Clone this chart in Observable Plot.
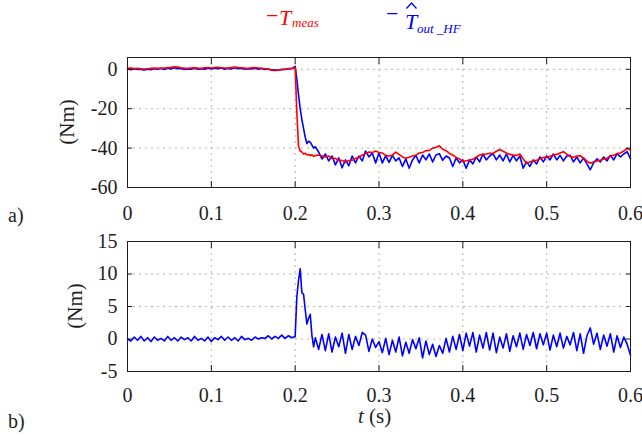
<!DOCTYPE html>
<html><head><meta charset="utf-8">
<script src="https://cdn.jsdelivr.net/npm/d3@7"></script>
<script src="https://cdn.jsdelivr.net/npm/@observablehq/plot@0.6"></script>
<style>
html,body{margin:0;padding:0;background:#fff;}
#wrap{position:relative;width:642px;height:437px;overflow:hidden;font-family:"Liberation Serif","Times New Roman",serif;}
#wrap > svg{position:absolute;left:0;}
#wrap svg text{font-family:"Liberation Serif","Times New Roman",serif;}
</style></head><body><div id="wrap"></div>
<script>
// ---- time samples (s) ----
const timePre = [0,0.004,0.008,0.012,0.016,0.02,0.024,0.028,0.032,0.036,
  0.04,0.044,0.048,0.052,0.056,0.06,0.064,0.068,0.072,0.076,
  0.08,0.084,0.088,0.092,0.096,0.1,0.104,0.108,0.112,0.116,
  0.12,0.124,0.128,0.132,0.136,0.14,0.144,0.148,0.152,0.156,
  0.16,0.164,0.168,0.172,0.176,0.18,0.184,0.188,0.192,0.196];
const timeStep = [0.2,0.202,0.204,0.206,0.208,0.21,0.212,0.214,0.216,0.218,0.22,0.222,0.224];
const timePost = [0.228,0.232,0.236,
  0.24,0.244,0.248,0.252,0.256,0.26,0.264,0.268,0.272,0.276,
  0.28,0.284,0.288,0.292,0.296,0.3,0.304,0.308,0.312,0.316,
  0.32,0.324,0.328,0.332,0.336,0.34,0.344,0.348,0.352,0.356,
  0.36,0.364,0.368,0.372,0.376,0.38,0.384,0.388,0.392,0.396,
  0.4,0.404,0.408,0.412,0.416,0.42,0.424,0.428,0.432,0.436,
  0.44,0.444,0.448,0.452,0.456,0.46,0.464,0.468,0.472,0.476,
  0.48,0.484,0.488,0.492,0.496,0.5,0.504,0.508,0.512,0.516,
  0.52,0.524,0.528,0.532,0.536,0.54,0.544,0.548,0.552,0.556,
  0.56,0.564,0.568,0.572,0.576,0.58,0.584,0.588,0.592,0.596,
  0.6];

// ---- panel a: measured torque T_meas (Nm) ----
const measPre = [0.5,0.6,0.4,0.5,0.3,0.2,0.3,0.5,0.6,0.5,
  0.7,0.6,0.8,1.0,1.3,1.1,0.8,0.6,0.5,0.7,
  0.8,0.6,0.5,0.8,0.9,0.7,0.9,1.0,0.8,0.7,
  0.6,0.9,1.1,0.9,0.8,0.6,0.5,0.8,0.9,0.7,
  0.5,0.3,0.0,-0.4,-0.6,-0.5,-0.2,0.1,0.3,0.5];
const measStep = [0.8,-22,-39,-41.5,-42,-43,-42.6,-43.4,-43.2,-43.8,-43.4,-44.2,-43.8];
const measPost = [-43.5,-44,-44.5,
  -44,-45.3,-45.2,-46.3,-46.2,-47.2,-46.3,-46.2,-45.2,-44.8,
  -43.5,-42.8,-42,-42.3,-41.5,-42.2,-42.5,-43.7,-44,-43.6,
  -42,-43.2,-44.5,-45.2,-44.6,-44,-43.6,-42.5,-42.2,-41.3,
  -41.2,-40,-39.7,-38.8,-40.6,-41.3,-42.7,-43.5,-44.7,-45.5,
  -46.8,-46.4,-46.1,-45.7,-44.6,-43.5,-43.2,-43,-42.6,-42.7,
  -41.6,-40.7,-41.6,-42.5,-43.2,-43.5,-43.7,-43,-45.5,-47.7,
  -47.1,-46.5,-46.2,-45.5,-44.8,-44.5,-44.2,-43.5,-43.2,-42.5,
  -41.8,-43.1,-44.3,-44.6,-44,-43.9,-45,-46.6,-47.7,-47.1,
  -46.5,-46.2,-45.5,-45.2,-44,-43.6,-42.8,-42.5,-41.5,-40.2,
  -41];

// ---- panel a: estimated torque T^_out_HF (Nm) ----
const estPre = [0.2,-0.2,0.3,-0.1,0.0,-0.4,0.1,-0.2,0.3,0.0,
  0.4,-0.1,0.5,0.2,0.8,0.3,0.4,-0.1,0.2,0.1,
  0.5,0.0,0.3,0.1,0.6,0.2,0.5,0.3,0.7,0.1,
  0.4,0.2,0.8,0.3,0.5,0.0,0.3,0.2,0.6,0.1,
  0.4,-0.1,0.2,-0.3,-0.2,-0.5,0.0,-0.1,0.4,0.3];
const estStep = [1.5,-5,-13,-20,-25.5,-30,-34.5,-37.7,-36.5,-37,-38.5,-40,-39.3];
const estPost = [-42,-45.5,-43,
  -46.5,-44,-48.5,-45,-50,-46,-49,-44,-47.5,-44,
  -46.5,-41.5,-44.5,-42.5,-47.5,-42.5,-47.5,-43.8,-47.2,-43.7,
  -46.5,-45,-49.3,-45.5,-50.2,-46,-43.7,-47.5,-43.5,-46,
  -43,-47,-43.5,-42.8,-46.2,-44,-45,-49.3,-45,-47.5,
  -46,-50.2,-46,-48,-44.5,-47,-43,-46,-44,-42.8,
  -46,-43.5,-46.5,-43,-47,-43.7,-46.5,-44,-50.2,-47,
  -49.3,-46,-48,-44.5,-47,-44,-46,-43,-46,-43.7,
  -46.5,-44,-43.7,-47,-44.5,-47.5,-45,-48,-51,-47.5,
  -45.5,-47,-44.5,-46.5,-43.7,-46,-42.8,-44.5,-43,-41.8,
  -45.5];

// ---- panel b: high-frequency estimate (Nm) ----
const hfPre = [0.0,-0.3,0.3,-0.2,0.4,-0.3,0.2,-0.4,0.3,-0.2,
  0.1,-0.3,0.4,-0.2,0.2,-0.3,0.3,-0.1,0.2,-0.3,
  0.4,-0.2,0.1,-0.3,0.3,-0.4,0.2,-0.1,0.4,-0.2,
  0.3,-0.2,0.2,-0.3,0.4,-0.1,0.1,-0.2,0.3,0.0,
  0.2,0.1,0.5,0.0,0.4,0.1,0.6,0.1,0.5,0.2];
const hfStep = [0.4,6.5,9.0,10.8,7.1,6.9,4.5,2.3,3.2,3.8,0.5,-1.2,0.2];
const hfPost = [-1.6,0.7,-1.8,
  0.8,-2.0,0.3,-1.2,0.9,-2.2,0.7,-1.6,0.4,-1.0,
  1.0,0.6,-1.9,0.0,-1.3,-0.4,-2.1,0.1,-2.4,-0.2,
  -2.0,0.3,-2.6,-0.5,-2.2,-0.1,-1.5,0.2,-2.9,-0.3,
  -2.4,-0.8,-2.7,-1.0,-2.2,0.1,-2.0,0.4,-1.6,0.7,
  -1.8,0.9,-1.1,1.0,-2.0,0.6,-1.4,1.0,-1.7,0.9,
  -2.1,0.3,-1.4,0.8,-1.9,0.5,-1.2,0.9,-1.6,0.7,
  -1.0,1.0,-1.5,0.8,-0.9,0.9,-1.7,0.6,-1.2,0.9,
  -1.4,0.4,-0.9,1.0,-1.8,0.8,-2.2,0.5,1.7,-0.8,
  0.9,-1.6,0.6,-1.1,0.8,-2.0,0.5,-1.3,0.3,-0.8,
  -2.5];

const xTicks = [0, 0.1, 0.2, 0.3, 0.4, 0.5, 0.6];
const xTickLabels = ["0", "0.1", "0.2", "0.3", "0.4", "0.5", "0.6"];
const yTicksA = [-60, -40, -20, 0];
const yTicksB = [-5, 0, 5, 10, 15];

const time = [...timePre, ...timeStep, ...timePost];
const meas = [...measPre, ...measStep, ...measPost];
const est = [...estPre, ...estStep, ...estPost];
const hf = [...hfPre, ...hfStep, ...hfPost];

const rowsA = time.map((t, i) => ({t, meas: meas[i], est: est[i]}));
const rowsB = time.map((t, i) => ({t, hf: hf[i]}));

const wrap = document.getElementById("wrap");
const ink = "#1e1e1e";
const serif = "Liberation Serif";
const gridStyle = {stroke: "#b4b4b4", strokeOpacity: 1, strokeWidth: 1, strokeDasharray: "2,4"};

function panel({height, mt, mb, yDomain, yTicks, lines, labelPad}) {
  return Plot.plot({
    width: 642, height,
    marginLeft: 127, marginRight: 12, marginTop: mt, marginBottom: mb,
    x: {domain: [0, 0.6]},
    y: {domain: yDomain},
    style: {fontFamily: serif, fontSize: "20px", color: ink, background: "transparent", overflow: "visible"},
    marks: [
      Plot.gridX(xTicks, gridStyle),
      Plot.gridY(yTicks, gridStyle),
      ...lines,
      Plot.frame({stroke: ink, strokeWidth: 1}),
      Plot.axisX(xTicks, {anchor: "bottom", tickSize: 6, dy: -6, tickFormat: () => "", label: null}),
      Plot.axisX(xTicks, {anchor: "top", tickSize: 6, dy: 6, tickFormat: () => "", label: null}),
      Plot.axisY(yTicks, {anchor: "left", tickSize: 5, dx: 5, tickFormat: () => "", label: null}),
      Plot.axisY(yTicks, {anchor: "right", tickSize: 5, dx: -5, tickFormat: () => "", label: null}),
      Plot.axisX(xTicks, {anchor: "bottom", tickSize: 0, tickPadding: labelPad, tickFormat: d => xTickLabels[xTicks.indexOf(d)], label: null, fontSize: 20, fontFamily: serif}),
      Plot.axisY(yTicks, {anchor: "left", tickSize: 0, tickPadding: 10, tickFormat: d => String(d), label: null, fontSize: 20, fontFamily: serif})
    ]
  });
}

const chartA = panel({
  height: 225, mt: 57, mb: 38, yDomain: [-60, 6], yTicks: yTicksA, labelPad: 18,
  lines: [
    Plot.line(rowsA, {x: "t", y: "est", stroke: "#0000ff", strokeWidth: 1.6}),
    Plot.line(rowsA, {x: "t", y: "meas", stroke: "#ff0000", strokeWidth: 1.6})
  ]
});
chartA.style.top = "0px";
wrap.appendChild(chartA);

const chartB = panel({
  height: 212, mt: 16, mb: 66, yDomain: [-5, 15], yTicks: yTicksB, labelPad: 16,
  lines: [
    Plot.line(rowsB, {x: "t", y: "hf", stroke: "#0000ff", strokeWidth: 1.6})
  ]
});
chartB.style.top = "225px";
wrap.appendChild(chartB);

// ---- text overlay: legend, axis labels, panel tags ----
const ns = "http://www.w3.org/2000/svg";
const over = document.createElementNS(ns, "svg");
over.setAttribute("width", 642);
over.setAttribute("height", 437);
over.style.top = "0px";
over.style.pointerEvents = "none";
over.innerHTML = `
  <text x="266" y="23" font-size="22" fill="#ff0000">−</text>
  <text x="279" y="25" font-size="22" font-style="italic" fill="#ff0000">T</text>
  <text x="292" y="27" font-size="13" font-style="italic" fill="#ff0000">meas</text>
  <text x="386" y="21" font-size="22" fill="#0000ff">−</text>
  <text x="405" y="29" font-size="22" font-style="italic" fill="#0000ff">T</text>
  <path d="M406.5,8.5 L411.5,3 L416.5,8.5" fill="none" stroke="#0000ff" stroke-width="1.3"/>
  <text x="417" y="33" font-size="13" font-style="italic" fill="#0000ff" xml:space="preserve">out _HF</text>
  <text transform="translate(67,122) rotate(-90)" text-anchor="middle" dominant-baseline="central" font-size="21" fill="${ink}">(Nm)</text>
  <text transform="translate(75,306) rotate(-90)" text-anchor="middle" dominant-baseline="central" font-size="21" fill="${ink}">(Nm)</text>
  <text x="8" y="222" font-size="20" fill="${ink}">a)</text>
  <text x="8" y="428" font-size="20" fill="${ink}">b)</text>
  <text x="358" y="423" font-size="21" fill="${ink}"><tspan font-style="italic">t</tspan> (s)</text>
`;
wrap.appendChild(over);
</script>
</body></html>
